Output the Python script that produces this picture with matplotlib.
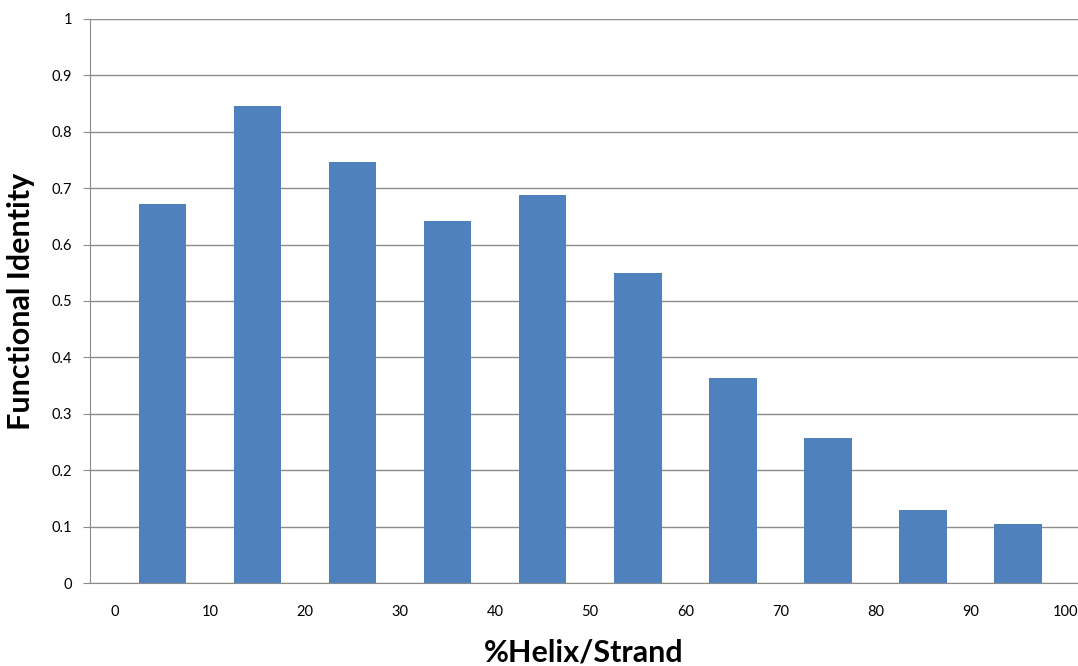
import matplotlib
matplotlib.use("Agg")
import matplotlib.pyplot as plt

bin_centers = [5, 15, 25, 35, 45, 55, 65, 75, 85, 95]
identity = [0.672, 0.846, 0.746, 0.641, 0.688, 0.549, 0.363, 0.257, 0.129, 0.105]
x_ticks = [0, 10, 20, 30, 40, 50, 60, 70, 80, 90, 100]
y_ticks = [0, 0.1, 0.2, 0.3, 0.4, 0.5, 0.6, 0.7, 0.8, 0.9, 1]

plt.rcParams['font.family'] = ['Lato', 'DejaVu Sans']

fig = plt.figure(figsize=(10.78, 6.66), dpi=100)
ax = fig.add_axes([0.0835, 0.1246, 0.9165, 0.8469])

ax.bar(bin_centers, identity, width=5, color='#4F81BD', zorder=3)

ax.set_xlim(-2.6, 101.3)
ax.set_ylim(0, 1)
ax.set_xticks(x_ticks)
ax.set_xticklabels([str(v) for v in x_ticks])
ax.set_yticks(y_ticks)
ax.set_yticklabels(['0' if v == 0 else ('1' if v == 1 else f'{v:.1f}') for v in y_ticks])

ax.grid(axis='y', color='#8c8c8c', linewidth=1, zorder=0)
for s in ['top', 'right']:
    ax.spines[s].set_visible(False)
ax.spines['left'].set_color('#8c8c8c')
ax.spines['bottom'].set_color('#8c8c8c')
ax.tick_params(axis='x', length=0, pad=16, labelsize=10.5)
ax.tick_params(axis='y', length=5, color='#8c8c8c', pad=8, labelsize=10.5)

ax.set_xlabel('%Helix/Strand', fontsize=22, fontweight='bold', labelpad=14)
ax.set_ylabel('Functional Identity', fontsize=22, fontweight='bold', labelpad=12)

fig.savefig('out.png', dpi=100)
